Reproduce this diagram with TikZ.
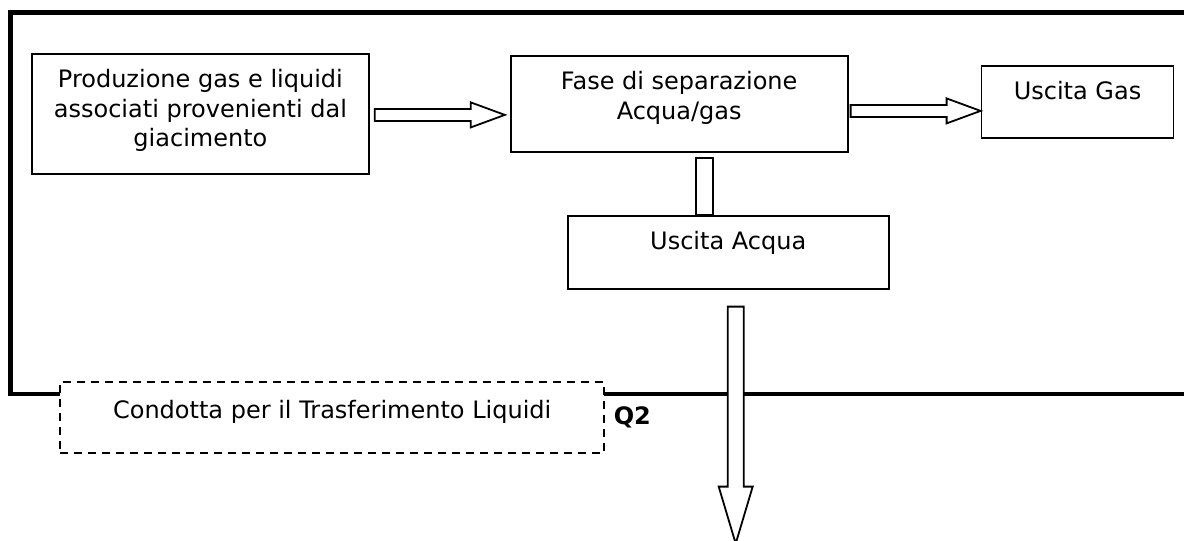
\documentclass[tikz,border=0pt]{standalone}
\usepackage{fontspec}
\setmainfont{DejaVu Sans}
\usetikzlibrary{positioning}
\usetikzlibrary{calc}

\tikzset{
	box/.style = {draw, line width = .9pt, fill = white, inner sep = 0pt, align = center, text height = 17pt, font = \fontsize{12}{14.75}\selectfont},
	fat/.style = {draw, line width = .9pt, fill = white, line join = miter},
	frame/.style = {line width = 2.25pt},
}

\begin{document}
\begin{tikzpicture}[x = .5pt, y = -.5pt]
		\useasboundingbox (0,0) rectangle (1184,541);
		\draw[frame] (1184,12.5) -- (10.5,12.5) -- (10.5,394) -- (1184,394);

		\node[box, anchor = north west, minimum width = 168.5pt, text height = 46.5pt, text depth = 13.5pt] (prod) at (31,53) {Produzione gas e liquidi\\associati provenienti dal\\giacimento};
		\node[box, right = 70pt of prod.north east, anchor = north west, yshift = -1pt, minimum width = 168.5pt, text height = 31.75pt, text depth = 16.25pt] (fase) {Fase di separazione\\Acqua/gas};
		\node[box, right = 66pt of fase.north east, anchor = north west, yshift = -5pt, minimum width = 96pt, text depth = 19pt] (gas) {Uscita Gas};
		\node[box, below = 31pt of fase.south, xshift = 24.5pt, minimum width = 160.5pt, text depth = 19.5pt] (acqua) {Uscita Acqua};
		\node[box, dashed, dash pattern = on 4pt off 3pt, line width = 1.2pt, anchor = north west, minimum width = 272pt, text height = 18pt, text depth = 17.5pt] (cond) at (59,381) {Condotta per il Trasferimento Liquidi};
		\node[right = 4pt of cond, inner sep = 0pt, font = \fontsize{12}{14}\selectfont\bfseries] (q2) {Q2};

		\coordinate (a1) at ($(prod.east)+(5,1)$);
		\coordinate (b1) at ($(fase.west |- a1)+(-5,0)$);
		\draw[fat] ($(a1)+(0,-6)$) -- ($(b1)+(-34,-6)$) -- ($(b1)+(-34,-12.5)$) -- (b1) -- ($(b1)+(-34,12.5)$) -- ($(b1)+(-34,6)$) -- ($(a1)+(0,6)$) -- cycle;

		\coordinate (a2) at ($(fase.east)+(2,7)$);
		\coordinate (b2) at (gas.west |- a2);
		\draw[fat] ($(a2)+(0,-6)$) -- ($(b2)+(-34,-6)$) -- ($(b2)+(-34,-12.5)$) -- (b2) -- ($(b2)+(-34,12.5)$) -- ($(b2)+(-34,6)$) -- ($(a2)+(0,6)$) -- cycle;

		\draw[fat] ($(fase.south)+(16.5,5)$) rectangle ($(acqua.north -| fase.south)+(33.5,0)$);

		\coordinate (w1) at ($(acqua.south)+(7.5,17)$);
		\coordinate (sink) at ($(w1)+(0,237)$);
		\draw[fat] ($(w1)+(-8,0)$) -- ($(sink)+(-8,-57)$) -- ($(sink)+(-17,-57)$) -- (sink) -- ($(sink)+(17,-57)$) -- ($(sink)+(8,-57)$) -- ($(w1)+(8,0)$) -- cycle;
	\end{tikzpicture}
\end{document}
